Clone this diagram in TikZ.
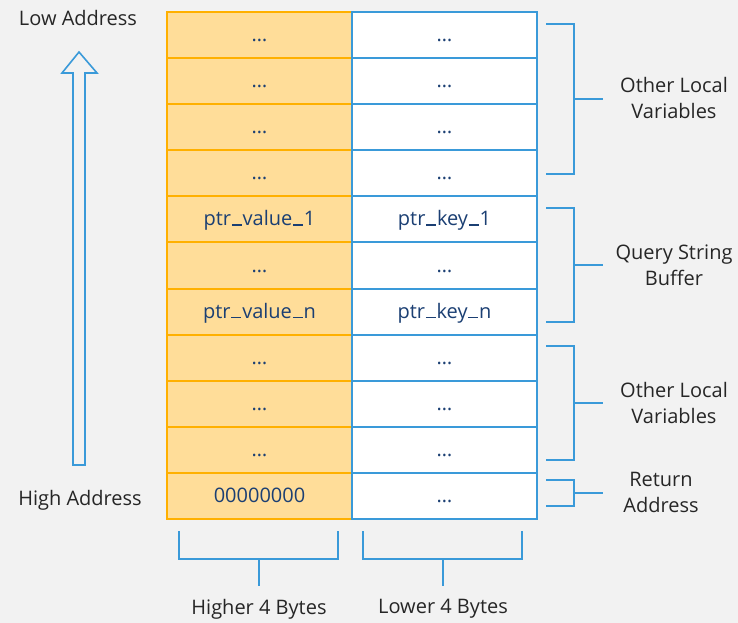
\documentclass[tikz,border=0pt]{standalone}
\usepackage{fontspec}
\setmainfont{Open Sans}
\definecolor{bg}{HTML}{F2F2F2}
\definecolor{lfill}{HTML}{FFDD99}
\definecolor{lline}{HTML}{FFB000}
\definecolor{bline}{HTML}{3A9AD9}
\definecolor{ctext}{HTML}{1B3F73}
\definecolor{ltext}{HTML}{262626}
\newcommand{\us}{\kern0.04em\rule[0em]{0.5em}{0.075em}\kern0.04em}
\begin{document}
\begin{tikzpicture}[x=0.75pt,y=-0.75pt,
  cellbase/.style={line width=1.5pt,minimum width=185*0.75pt,minimum height=46.1*0.75pt,inner sep=0pt,anchor=north west,text=ctext,font=\fontsize{15}{18}\selectfont,text height=12pt,text depth=2.2pt},
  lcell/.style={cellbase,draw=lline,fill=lfill},
  rcell/.style={cellbase,draw=bline,fill=white},
  lbl/.style={text=ltext,align=center,font=\fontsize{15}{19.5}\selectfont,inner sep=0pt},
  brk/.style={draw=bline,line width=1.5pt}]
\fill[bg] (0,0) rectangle (738,623);
\useasboundingbox (0,0) rectangle (738,623);
% cells
\foreach \i/\l/\r in {0/\dots/\dots,1/\dots/\dots,2/\dots/\dots,3/\dots/\dots,4/ptr\us value\us 1/ptr\us key\us 1,5/\dots/\dots,6/ptr\us value\us n/ptr\us key\us n,7/\dots/\dots,8/\dots/\dots,9/\dots/\dots,10/00000000/\dots}{
  \node[lcell] (l\i) at (166,{11+46.1*\i}) {\l};
  \node[rcell] (r\i) at (351,{11+46.1*\i}) {\r};
}
% arrow
\draw[bline,line width=1.2pt,line join=miter] (73,465) -- (73,73) -- (62,73) -- (79,52) -- (97,73) -- (85,73) -- (85,465) -- cycle;
\node[lbl] (low) at (78,18) {Low Address};
\node[lbl] (high) at (80,500) {High Address};
% right brackets
\draw[brk] (546,24) -- (574,24) -- (574,174) -- (546,174);
\draw[brk] (574,99) -- (603,99);
\node[lbl] (o1) at (674,98) {Other Local\\Variables};
\draw[brk] (546,208) -- (574,208) -- (574,322) -- (546,322);
\draw[brk] (574,265) -- (603,265);
\node[lbl] (q) at (674,265) {Query String\\Buffer};
\draw[brk] (546,346) -- (574,346) -- (574,460) -- (546,460);
\draw[brk] (574,403) -- (603,403);
\node[lbl] (o2) at (674,403) {Other Local\\Variables};
\draw[brk] (546,480) -- (574,480) -- (574,506) -- (546,506);
\draw[brk] (574,493) -- (603,493);
\node[lbl] (ra) at (661,492) {Return\\Address};
% bottom brackets
\draw[brk] (179,531) -- (179,559) -- (338,559) -- (338,531);
\draw[brk] (259,559) -- (259,586);
\node[lbl] (hb) at (259,609) {Higher 4 Bytes};
\draw[brk] (363,531) -- (363,559) -- (522,559) -- (522,531);
\draw[brk] (443,559) -- (443,586);
\node[lbl] (lb) at (443,609) {Lower 4 Bytes};
\end{tikzpicture}
\end{document}
